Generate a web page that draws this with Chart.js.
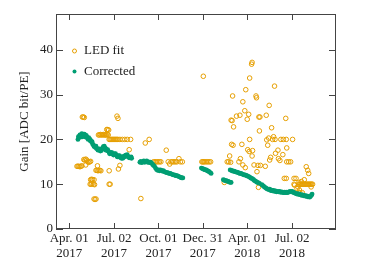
<!DOCTYPE html>
<html>
<head>
<meta charset="utf-8">
<script src="https://cdn.jsdelivr.net/npm/chart.js@4"></script>
<style>
  html, body { margin: 0; padding: 0; background: #fff; }
</style>
</head>
<body>
<canvas id="gainChart" width="374" height="270"></canvas>
<script>
// days counted from Apr. 01 2017
const tickDays = [0, 92, 183, 274, 365, 457];
const tickDates = ["Apr. 01", "Jul. 02", "Oct. 01", "Dec. 31", "Apr. 01", "Jul. 02"];
const tickYears = ["2017", "2017", "2017", "2017", "2018", "2018"];
const yTicks = [0, 10, 20, 30, 40];

// LED fit (open orange circles)
const ledDays = [
  16, 18, 20, 22, 24, 26, 27, 29, 31, 30, 32, 34, 36, 34, 38, 40, 42, 44,
  43, 45, 47, 50, 52, 44, 46, 48, 51, 51, 53, 55, 55, 57, 59, 61, 63, 65, 58,
  60, 62, 64, 66, 68, 70, 72, 74, 76, 78, 80, 77, 79, 81,
  82, 84, 86, 88, 90, 92, 94, 96, 98, 100, 104, 109, 114, 119, 126,
  98, 100, 82, 82, 84, 101, 104, 123,
  147, 156, 164, 173, 176, 179, 182, 185, 188, 199, 203, 206, 209, 212, 215, 218, 221, 225, 228, 232,
  275, 272, 274, 276, 278, 281, 284, 287, 290,
  318, 324, 327, 329, 331, 332, 334, 333, 336, 335, 337, 343, 348, 350, 351, 354, 356, 356,
  360, 361, 362, 365, 368, 366, 369, 370, 370, 374, 375, 375, 376, 379, 383, 384, 385,
  388, 389, 391, 390, 387, 392, 402, 404, 405, 407, 409, 410, 411, 413, 415, 417, 419,
  421, 422, 423, 428, 429, 432, 434, 439, 438, 441, 444, 446, 445, 446, 450, 454, 458,
  445, 461, 465, 461, 462, 467, 469, 471, 472, 473, 478, 476, 482, 486, 489, 491, 496,
  471, 473, 475, 477, 479, 481, 483, 485, 487, 489, 491, 493, 495, 497, 499
];
const ledGain = [
  14.0, 14.0, 14.0, 13.9, 14.0, 14.1, 25.0, 25.0, 24.9, 15.5, 15.4, 15.6, 15.4, 14.3, 15.0, 14.9, 15.0, 15.1,
  10.0, 10.0, 10.1, 10.0, 9.9, 11.0, 11.1, 11.0, 11.0, 6.7, 6.6, 6.7, 13.1, 13.1, 13.0, 13.1, 13.1, 13.0, 14.1,
  21.0, 21.0, 21.1, 21.0, 21.0, 21.1, 21.0, 21.0, 21.0, 21.1, 21.0, 22.2, 22.2, 22.1,
  20.0, 20.0, 20.0, 20.0, 20.0, 20.0, 20.0, 20.0, 20.0, 20.0, 20.0, 20.0, 20.0, 20.0, 20.0,
  25.2, 24.7, 13.0, 10.0, 10.0, 13.4, 14.2, 17.7,
  6.8, 19.2, 20.0, 15.0, 15.0, 15.0, 15.0, 15.0, 15.0, 17.6, 15.0, 14.5, 15.0, 15.0, 15.0, 15.0, 15.0, 15.7, 15.0, 15.0,
  34.1, 15.0, 15.0, 15.0, 15.0, 15.0, 15.0, 15.0, 15.0,
  10.4, 15.0, 15.0, 16.3, 14.9, 24.3, 24.2, 18.9, 18.7, 29.7, 22.8, 25.2, 15.0, 25.4, 15.7, 18.9, 28.4, 14.3,
  26.4, 13.7, 31.1, 24.5, 25.6, 17.7, 17.3, 20.0, 33.7, 36.8, 37.2, 16.3, 17.5, 14.3, 29.7, 29.3, 12.8,
  9.3, 25.0, 25.0, 21.9, 14.2, 14.2, 14.0, 25.4, 19.9, 18.7, 20.3, 27.6, 15.4, 16.0, 22.6, 20.0, 20.6,
  31.9, 20.0, 16.9, 17.6, 15.7, 15.3, 20.0, 20.0, 16.6, 11.3, 24.7, 18.1, 20.0, 15.0, 15.0, 15.0, 20.0,
  11.3, 11.3, 11.3, 10.0, 9.8, 9.0, 9.4, 10.4, 8.7, 8.1, 8.1, 10.6, 11.0, 13.9, 13.1, 12.4, 9.4,
  10.0, 10.0, 10.0, 10.0, 10.0, 10.0, 10.0, 10.0, 10.0, 10.0, 10.0, 10.0, 10.0, 10.0, 10.0
];

// Corrected (filled green dots)
const corrDays = [
  18, 20, 22, 24, 26, 28, 30, 32, 34, 36, 38, 40, 42, 44, 46, 48, 50, 52, 54, 56, 58, 60,
  62, 64, 66, 68, 70, 72, 74, 76, 78, 80, 82, 84, 86, 88, 90, 92, 94, 96, 98, 100,
  102, 104, 106, 108, 110, 112, 114, 116, 118, 120, 122, 124, 126, 128,
  19, 23, 27, 31, 35, 39, 43, 47, 51, 55, 59, 63, 67, 71, 75, 79, 83, 87, 91, 95, 99,
  103, 107, 111, 115, 119, 123, 127,
  145, 147, 149, 151, 153, 155, 157, 159, 161, 163, 165, 167, 169, 171, 173, 175, 177, 179,
  181, 183, 185, 187, 189, 191, 193, 195, 197, 199, 201, 203, 205, 207, 209, 211, 213, 215,
  217, 219, 221, 223, 225, 227, 229, 231, 233,
  271, 273, 275, 277, 279, 281, 283, 285, 287, 289, 291,
  316, 318, 320, 322, 324, 326, 328, 330, 332,
  330, 332, 334, 336, 338, 340, 342, 344, 346, 348, 350, 352, 354, 356, 358, 360, 362, 364,
  366, 368, 370, 372, 374, 376, 378, 380, 382, 384, 386, 388, 390,
  395, 397, 399, 401, 403, 405, 407, 409, 411, 413, 415, 417, 419, 421, 423, 425, 427, 429,
  431, 433, 435, 437, 439, 441, 443, 445, 447, 449, 451, 453, 455, 457, 459, 461, 463, 465,
  467, 469, 471, 473, 475, 477, 479, 481, 483, 485, 487, 489, 491, 493, 495, 497, 498
];
const corrGain = [
  20.0, 20.6, 21.0, 20.8, 21.3, 20.9, 20.7, 21.0, 20.5, 20.6, 20.2, 20.4, 20.1, 19.8, 19.4, 19.0, 18.7, 18.5, 18.2, 18.0, 17.9, 17.8,
  17.6, 17.4, 17.5, 17.9, 18.4, 18.5, 18.1, 17.8, 17.5, 17.4, 17.1, 17.0, 16.9, 16.8, 16.7, 16.8, 16.6, 16.5, 16.3, 16.4,
  16.2, 16.0, 16.1, 15.9, 15.8, 16.0, 16.3, 16.5, 16.4, 16.2, 16.1, 16.0, 15.9, 15.8,
  20.6, 20.5, 20.6, 21.2, 20.9, 20.0, 19.7, 19.5, 18.4, 18.5, 17.6, 17.9, 17.8, 18.1, 17.6, 17.7, 16.8, 17.1, 16.5, 16.8, 16.1,
  16.4, 15.8, 16.2, 16.2, 16.6, 15.9, 16.1,
  14.9, 15.1, 14.8, 15.0, 15.2, 14.9, 15.1, 15.2, 14.9, 15.0, 14.8, 14.9, 14.7, 14.4, 14.2, 14.0, 13.6, 13.3,
  13.1, 13.2, 13.0, 13.2, 13.1, 12.9, 13.0, 12.8, 12.7, 12.6, 12.6, 12.5, 12.4, 12.4, 12.3, 12.2, 12.1, 12.1,
  12.0, 11.9, 11.9, 11.8, 11.7, 11.6, 11.5, 11.4, 11.4,
  13.6, 13.5, 13.4, 13.3, 13.2, 13.2, 13.0, 12.9, 12.8, 12.6, 12.4,
  11.0, 10.9, 10.8, 10.8, 10.7, 10.6, 10.5, 10.4, 10.4,
  13.2, 13.1, 13.0, 12.9, 12.9, 12.8, 12.7, 12.7, 12.6, 12.5, 12.4, 12.4, 12.3, 12.2, 12.1, 12.1, 12.0, 11.9,
  11.8, 11.7, 11.6, 11.4, 11.3, 11.2, 11.0, 10.8, 10.7, 10.5, 10.4, 10.3, 10.2,
  9.9, 9.7, 9.5, 9.3, 9.2, 9.0, 8.9, 8.8, 8.9, 8.6, 8.7, 8.5, 8.6, 8.4, 8.5, 8.3, 8.4, 8.3,
  8.4, 8.2, 8.3, 8.2, 8.1, 8.2, 8.1, 8.2, 8.1, 8.2, 8.3, 8.4, 8.3, 8.4, 8.2, 8.1, 8.0, 7.9,
  7.8, 7.9, 7.7, 7.8, 7.6, 7.5, 7.6, 7.4, 7.5, 7.3, 7.4, 7.2, 7.3, 7.1, 7.3, 7.6, 7.8
];

const ORANGE = "#E69F00";
const GREEN = "#009E73";
const SERIF = '"Liberation Serif", "DejaVu Serif", serif';

const toPoints = (xs, ys) => xs.map((d, i) => ({ x: d, y: ys[i] }));

// inward ticks on all four sides plus the box
const framePlugin = {
  id: "frame",
  afterDatasetsDraw(chart) {
    const { ctx, chartArea: a, scales } = chart;
    ctx.save();
    ctx.strokeStyle = "#444";
    ctx.lineWidth = 1;
    ctx.beginPath();
    tickDays.forEach(d => {
      const px = Math.round(scales.x.getPixelForValue(d)) + 0.5;
      ctx.moveTo(px, a.bottom); ctx.lineTo(px, a.bottom - 6);
      ctx.moveTo(px, a.top); ctx.lineTo(px, a.top + 6);
    });
    yTicks.forEach(v => {
      const py = Math.round(scales.y.getPixelForValue(v)) + 0.5;
      ctx.moveTo(a.left, py); ctx.lineTo(a.left + 7, py);
      ctx.moveTo(a.right, py); ctx.lineTo(a.right - 7, py);
    });
    ctx.stroke();
    ctx.strokeRect(a.left + 0.5, a.top + 0.5, a.right - a.left - 1, a.bottom - a.top - 1);
    ctx.restore();
  },
  afterDraw(chart) {
    // legend in the upper left of the plot
    const { ctx } = chart;
    ctx.save();
    ctx.font = "13px " + SERIF;
    ctx.fillStyle = "#222";
    ctx.textBaseline = "middle";
    ctx.lineWidth = 1;
    ctx.strokeStyle = ORANGE;
    ctx.beginPath(); ctx.arc(74.5, 51, 2, 0, Math.PI * 2); ctx.stroke();
    ctx.fillText("LED fit", 84, 51);
    ctx.fillStyle = GREEN;
    ctx.beginPath(); ctx.arc(74.5, 71.5, 2, 0, Math.PI * 2); ctx.fill();
    ctx.fillStyle = "#222";
    ctx.fillText("Corrected", 84, 71.5);
    ctx.restore();
  }
};

new Chart(document.getElementById("gainChart"), {
  type: "scatter",
  data: {
    datasets: [
      {
        label: "Corrected",
        data: toPoints(corrDays, corrGain),
        pointRadius: 2.4,
        pointBorderWidth: 0,
        backgroundColor: GREEN,
        borderColor: GREEN
      },
      {
        label: "LED fit",
        data: toPoints(ledDays, ledGain),
        pointRadius: 2.3,
        pointBorderWidth: 1,
        backgroundColor: "rgba(0,0,0,0)",
        borderColor: ORANGE
      }
    ]
  },
  options: {
    responsive: false,
    animation: false,
    events: [],
    layout: { padding: { top: 14, right: 38, left: 0, bottom: 0 } },
    plugins: { legend: { display: false }, tooltip: { enabled: false } },
    scales: {
      x: {
        type: "linear",
        min: -27,
        max: 547,
        grid: { display: false, drawTicks: false },
        border: { display: false },
        afterBuildTicks: s => { s.ticks = tickDays.map(v => ({ value: v })); },
        afterFit: s => { s.height = 41; },
        ticks: {
          autoSkip: false,
          maxRotation: 0,
          padding: 2,
          color: "#222",
          font: { family: SERIF, size: 13, lineHeight: 1.15 },
          callback: (v, i) => [tickDates[i], tickYears[i]]
        }
      },
      y: {
        min: 0,
        max: 48,
        grid: { display: false, drawTicks: false },
        border: { display: false },
        afterBuildTicks: s => { s.ticks = yTicks.map(v => ({ value: v })); },
        afterFit: s => { s.width = 56; },
        ticks: {
          padding: 3,
          color: "#222",
          font: { family: SERIF, size: 13 }
        },
        title: {
          display: true,
          text: "Gain [ADC bit/PE]",
          color: "#222",
          padding: { top: 17, bottom: 0 },
          font: { family: SERIF, size: 13 }
        }
      }
    }
  },
  plugins: [framePlugin]
});
</script>
</body>
</html>
